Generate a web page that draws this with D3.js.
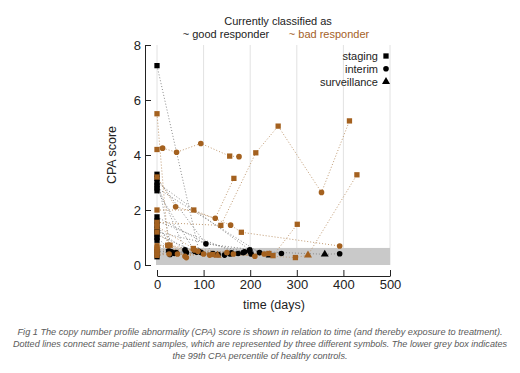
<!DOCTYPE html>
<html>
<head>
<meta charset="utf-8">
<script src="https://cdn.jsdelivr.net/npm/d3@7"></script>
<style>
  body { margin: 0; background: #fff; }
  svg { display: block; font-family: "Liberation Sans", Arial, sans-serif; }
</style>
</head>
<body>
<svg width="520" height="373"></svg>
<script>
// ticks
const xTicks = [0, 100, 200, 300, 400, 500];
const yTicks = [0, 2, 4, 6, 8];

// 99th percentile of healthy controls (grey box)
const healthyCut = 0.62;

// legend
const sampleTypes = ['s', 'i', 'v'];
const sampleLabels = ['staging', 'interim', 'surveillance'];

// one entry per patient: [day, CPA score, sample type]
// s = staging, i = interim, v = surveillance
const goodPatients = [
  [[0, 7.25, 's'], [90, 0.5, 'i']],
  [[0, 3.3, 's'], [31, 0.48, 'i'], [157, 0.4, 'i']],
  [[0, 3.15, 's'], [120, 0.42, 'i']],
  [[0, 3.0, 's'], [199, 0.55, 'i']],
  [[0, 2.9, 's'], [63, 0.45, 'i'], [131, 0.38, 'i']],
  [[0, 2.8, 's'], [220, 0.45, 'i']],
  [[0, 2.7, 's'], [81, 0.5, 'i'], [185, 0.45, 'i']],
  [[0, 1.75, 's'], [105, 0.77, 'i'], [267, 0.42, 'i']],
  [[0, 1.6, 's'], [174, 0.42, 'i']],
  [[0, 1.45, 's'], [41, 0.45, 'i'], [145, 0.36, 'i'], [242, 0.36, 'v']],
  [[0, 1.3, 's'], [60, 0.55, 'i']],
  [[0, 1.2, 's'], [188, 0.48, 'i']],
  [[0, 1.1, 's'], [85, 0.47, 'i'], [202, 0.4, 'i']],
  [[0, 1.0, 's'], [37, 0.42, 'i']],
  [[0, 0.9, 's'], [28, 0.38, 'i'], [160, 0.44, 'i']],
  [[0, 0.5, 's'], [95, 0.45, 'i'], [199, 0.5, 'i'], [360, 0.39, 'v'], [392, 0.41, 'i']],
  [[0, 0.3, 's'], [25, 0.52, 'i']]
];

const badPatients = [
  [[0, 4.2, 's'], [12, 4.25, 'i'], [42, 4.1, 'i'], [94, 4.42, 'i'], [156, 3.96, 's'], [176, 3.94, 'i']],
  [[0, 5.5, 's'], [24, 0.7, 'i'], [113, 0.36, 'i']],
  [[0, 3.2, 's'], [40, 2.12, 'i'], [125, 1.7, 'i'], [165, 3.15, 's']],
  [[0, 2.0, 's'], [79, 2.0, 's'], [158, 1.45, 'i'], [181, 1.19, 's'], [392, 0.69, 'i']],
  [[0, 1.55, 's'], [137, 1.44, 's'], [212, 4.08, 's'], [260, 5.05, 's'], [353, 2.64, 'i'], [413, 5.24, 's']],
  [[0, 1.4, 's'], [78, 0.6, 's'], [150, 0.45, 'i'], [240, 0.42, 's']],
  [[0, 0.7, 's'], [23, 0.72, 's'], [63, 0.27, 'i']],
  [[0, 0.62, 's'], [28, 0.72, 's'], [88, 0.5, 'i'], [210, 0.32, 'i']],
  [[0, 0.45, 's'], [44, 0.4, 'i'], [120, 0.38, 's'], [249, 0.34, 's'], [301, 1.48, 's']],
  [[0, 0.35, 's'], [26, 0.4, 'i'], [164, 0.4, 'i'], [297, 0.27, 's'], [324, 0.36, 'v'], [429, 3.28, 's']],
  [[0, 0.55, 's'], [80, 0.55, 'i'], [130, 0.35, 'v'], [230, 0.4, 'i']],
  [[0, 1.2, 's'], [60, 0.32, 'i'], [100, 0.4, 'i']]
];

const captionLines = [
  'Fig 1 The copy number profile abnormality (CPA) score is shown in relation to time (and thereby exposure to treatment).',
  'Dotted lines connect same-patient samples, which are represented by three different symbols. The lower grey box indicates',
  'the 99th CPA percentile of healthy controls.'
];
const captionWidths = [485, 494, 175];

const brown = '#a4611f';
const svg = d3.select('svg');

let x = d3.scaleLinear().domain([0, 500]).range([157, 390]);
let y = d3.scaleLinear().domain([0, 8]).range([265, 45]);

let symbolOf = d3.scaleOrdinal()
  .domain(sampleTypes)
  .range([d3.symbolSquare, d3.symbolCircle, d3.symbolTriangle]);
let sizeOf = d3.scaleOrdinal().domain(sampleTypes).range([28, 25, 28]);

// grid
svg.append('g')
  .selectAll('line')
  .data(xTicks)
  .join('line')
  .attr('x1', (d) => x(d))
  .attr('x2', (d) => x(d))
  .attr('y1', y(8))
  .attr('y2', y(0))
  .attr('stroke', '#e2e2e2')
  .attr('stroke-width', 1);

// healthy control box
svg.append('rect')
  .attr('x', x(0) - 1)
  .attr('y', y(healthyCut))
  .attr('width', x(500) - x(0) + 1)
  .attr('height', y(0) - y(healthyCut))
  .attr('fill', '#c9c9c9');

let line = d3.line().x((d) => x(d[0])).y((d) => y(d[1]));

function drawLines(patients, lineColor) {
  svg.append('g')
    .selectAll('path')
    .data(patients)
    .join('path')
    .attr('d', line)
    .attr('fill', 'none')
    .attr('stroke', lineColor)
    .attr('stroke-width', 1)
    .attr('stroke-dasharray', '1,2');
}

function drawPoints(patients, color) {
  svg.append('g')
    .selectAll('path')
    .data(patients.flat())
    .join('path')
    .attr('transform', (d) => `translate(${x(d[0])},${y(d[1])})`)
    .attr('d', (d) => d3.symbol(symbolOf(d[2]), sizeOf(d[2]))())
    .attr('fill', color);
}

drawLines(goodPatients, '#8a8a8a');
drawLines(badPatients, '#c09a72');
drawPoints(goodPatients, '#000');
drawPoints(badPatients, brown);

// axes
let yAxis = svg.append('g')
  .attr('transform', 'translate(145,0)')
  .call(d3.axisLeft(y).tickValues(yTicks).tickSize(-6).tickSizeOuter(0).tickPadding(4));
let xAxis = svg.append('g')
  .attr('transform', 'translate(0,276)')
  .call(d3.axisBottom(x).tickValues(xTicks).tickSize(-6).tickSizeOuter(0).tickPadding(4));

[xAxis, yAxis].forEach((g) => {
  g.selectAll('path, line').attr('stroke', '#222');
  g.selectAll('text').attr('font-size', 13).attr('fill', '#222').attr('font-family', null);
});

svg.append('text')
  .attr('transform', 'translate(116,155) rotate(-90)')
  .attr('text-anchor', 'middle')
  .attr('font-size', 12.5)
  .attr('fill', '#222')
  .text('CPA score');

svg.append('text')
  .attr('x', 274)
  .attr('y', 309)
  .attr('text-anchor', 'middle')
  .attr('font-size', 12.5)
  .attr('fill', '#222')
  .text('time (days)');

// title
svg.append('text')
  .attr('x', 278)
  .attr('y', 25)
  .attr('text-anchor', 'middle')
  .attr('font-size', 11)
  .attr('fill', '#222')
  .text('Currently classified as');
svg.append('text')
  .attr('x', 226)
  .attr('y', 38)
  .attr('text-anchor', 'middle')
  .attr('font-size', 11)
  .attr('fill', '#222')
  .text('~ good responder');
svg.append('text')
  .attr('x', 329)
  .attr('y', 38)
  .attr('text-anchor', 'middle')
  .attr('font-size', 11)
  .attr('fill', brown)
  .text('~ bad responder');

// legend
let legend = svg.append('g')
  .selectAll('g')
  .data(sampleTypes)
  .join('g')
  .attr('transform', (d, i) => `translate(0,${56 + i * 12.8})`);
legend.append('text')
  .attr('x', 378)
  .attr('y', 4)
  .attr('text-anchor', 'end')
  .attr('font-size', 11)
  .attr('fill', '#222')
  .text((d, i) => sampleLabels[i]);
legend.append('path')
  .attr('transform', 'translate(386,0)')
  .attr('d', (d) => d3.symbol(symbolOf(d), sizeOf(d))())
  .attr('fill', '#000');

// caption
svg.append('g')
  .selectAll('text')
  .data(captionLines)
  .join('text')
  .attr('x', 260)
  .attr('y', (d, i) => 335 + i * 12)
  .attr('text-anchor', 'middle')
  .attr('font-size', 9.3)
  .attr('font-style', 'italic')
  .attr('fill', '#5a5a5a')
  .attr('textLength', (d, i) => captionWidths[i])
  .attr('lengthAdjust', 'spacingAndGlyphs')
  .text((d) => d);
</script>
</body>
</html>
